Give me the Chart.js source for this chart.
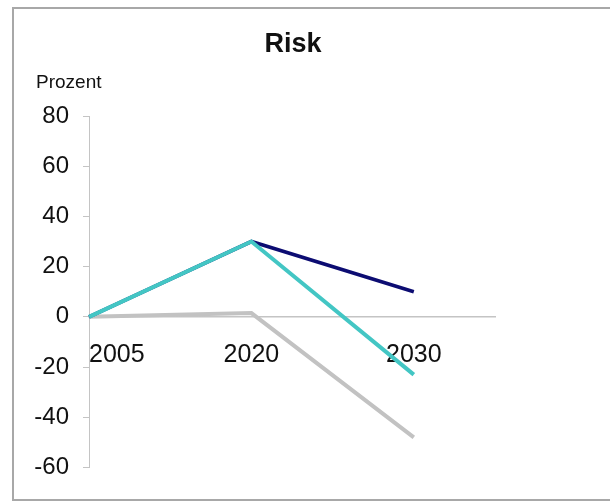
<!DOCTYPE html>
<html>
<head>
<meta charset="utf-8">
<script src="https://cdn.jsdelivr.net/npm/chart.js@4/dist/chart.umd.min.js"></script>
<style>
  html, body { margin: 0; padding: 0; background: #ffffff; }
  #wrap { position: relative; width: 610px; height: 501px; }
  #frame {
    position: absolute; left: 12px; top: 7px; width: 620px; height: 490px;
    border-left: 2px solid #a8a8a8; border-top: 2px solid #a8a8a8; border-bottom: 2px solid #a8a8a8;
    pointer-events: none;
  }
  canvas { position: absolute; left: 0; top: 0; }
</style>
</head>
<body>
<div id="wrap">
  <canvas id="chart" width="610" height="501"></canvas>
  <div id="frame"></div>
</div>
<script>
// Categories and series (percent change relative to 2005)
const years = ['2005', '2020', '2030'];
const seriesNavy = [0, 30, 10];
const seriesCyan = [0, 30, -23];
const seriesGray = [0, 1.5, -48];
const yTicks = [-60, -40, -20, 0, 20, 40, 60, 80];

const chartTitle = 'Risk';
const unitLabel = 'Prozent';

const FONT = "'Liberation Sans', Arial, sans-serif";

function toPoints(values) {
  return values.map((v, i) => ({ x: i, y: v }));
}

// Title and unit label above the plot
const headings = {
  id: 'headings',
  afterDraw(chart) {
    const ctx = chart.ctx;
    ctx.save();
    ctx.fillStyle = '#111111';
    ctx.textBaseline = 'alphabetic';
    ctx.textAlign = 'center';
    ctx.font = "bold 27px " + FONT;
    ctx.fillText(chartTitle, 293, 52);
    ctx.textAlign = 'left';
    ctx.font = "19px " + FONT;
    ctx.fillText(unitLabel, 36, 88);
    ctx.restore();
  }
};

new Chart(document.getElementById('chart'), {
  type: 'line',
  data: {
    datasets: [
      { data: toPoints(seriesCyan), borderColor: '#43c6c4', order: 1 },
      { data: toPoints(seriesNavy), borderColor: '#0c0c72', borderWidth: 3.6, order: 2 },
      { data: toPoints(seriesGray), borderColor: '#c2c2c2', order: 3 }
    ]
  },
  options: {
    responsive: false,
    animation: false,
    events: [],
    layout: { padding: { left: 0, right: 115, top: 116, bottom: 33.5 } },
    elements: {
      point: { radius: 0 },
      line: { borderWidth: 4, tension: 0, borderCapStyle: 'butt', borderJoinStyle: 'miter', fill: false }
    },
    datasets: { line: { clip: false } },
    plugins: { legend: { display: false }, tooltip: { enabled: false }, title: { display: false } },
    scales: {
      x: {
        type: 'linear',
        position: { y: 0 },
        min: 0,
        max: 2.5,
        afterFit(scale) { scale.height = 0; },
        afterBuildTicks(scale) {
          scale.ticks = [0, 1, 2, 2.5].map(v => ({ value: v }));
        },
        grid: { display: false, drawTicks: false },
        border: { display: true, color: '#c4c4c4', width: 1.5 },
        ticks: {
          align: 'inner',
          autoSkip: false,
          maxRotation: 0,
          padding: 23,
          color: '#111111',
          font: { family: FONT, size: 25 },
          callback: (v) => (Number.isInteger(v) && years[v] !== undefined) ? years[v] : ''
        }
      },
      y: {
        min: -60,
        max: 80,
        afterFit(scale) { scale.width = 89; },
        afterBuildTicks(scale) {
          scale.ticks = yTicks.map(v => ({ value: v }));
        },
        grid: { display: true, drawOnChartArea: false, drawTicks: true, tickLength: 6, color: '#c4c4c4', lineWidth: 1 },
        border: { display: true, color: '#c4c4c4', width: 1 },
        ticks: {
          padding: 14,
          color: '#111111',
          font: { family: FONT, size: 24 }
        }
      }
    }
  },
  plugins: [headings]
});
</script>
</body>
</html>
